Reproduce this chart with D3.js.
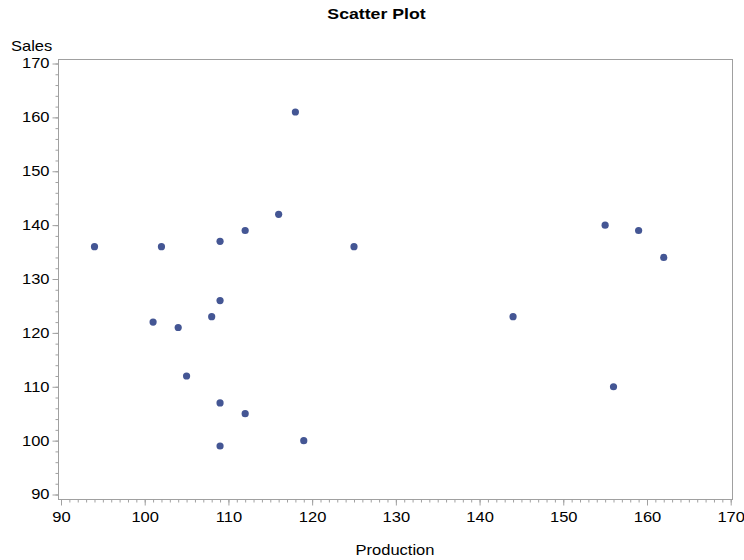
<!DOCTYPE html>
<html><head><meta charset="utf-8">
<script src="https://cdn.jsdelivr.net/npm/d3@7"></script>
<style>body{margin:0;background:#fff;} svg{display:block;font-family:"Liberation Sans",Arial,sans-serif;}</style>
</head><body>
<svg id="c" width="744" height="560"></svg>
<script>
const production = [94,102,101,104,105,108,109,109,109,109,112,112,116,118,119,125,144,155,156,159,162];
const sales      = [136,136,122,121,112,123,126,137,107,99,139,105,142,161,100,136,123,140,110,139,134];
const xTicks = [90,100,110,120,130,140,150,160,170];
const yTicks = [90,100,110,120,130,140,150,160,170];
const title = "Scatter Plot", xLabel = "Production", yLabel = "Sales";

const sx = 1.18; // horizontal stretch of text in the reference
const svg = d3.select("#c");
const x = d3.scaleLinear().domain([90,170]).range([61,730.7]);
const y = d3.scaleLinear().domain([90,170]).range([494.5,63.5]);
const frame = {l:58.5, t:59.5, r:732.5, b:499.5};
const axisColor = "#a0a0a0";

svg.append("rect").attr("x",frame.l).attr("y",frame.t)
  .attr("width",frame.r-frame.l).attr("height",frame.b-frame.t)
  .attr("fill","none").attr("stroke",axisColor).attr("stroke-width",1);

function style(g){ g.select(".domain").remove(); g.selectAll("line").attr("stroke",axisColor);
  g.selectAll("text").attr("fill","#000").attr("font-size","14px"); }

// x minor
svg.append("g").attr("transform",`translate(0,${frame.b})`)
  .call(d3.axisBottom(x).tickValues(d3.range(90,171,1)).tickSize(3).tickFormat(""))
  .call(style);
svg.append("g").attr("transform",`translate(0,${frame.b})`)
  .call(d3.axisBottom(x).tickValues(xTicks).tickSize(6).tickPadding(7).tickFormat(d3.format("d")))
  .call(style)
  .call(g=>g.selectAll("text").attr("transform",`scale(${sx},1)`));
// y minor
svg.append("g").attr("transform",`translate(${frame.l},0)`)
  .call(d3.axisLeft(y).tickValues(d3.range(90,171,2)).tickSize(3).tickFormat(""))
  .call(style);
svg.append("g").attr("transform",`translate(${frame.l},0)`)
  .call(d3.axisLeft(y).tickValues(yTicks).tickSize(6).tickPadding(3).tickFormat(d3.format("d")))
  .call(style)
  .call(g=>g.selectAll("text").attr("x",-9/sx).attr("transform",`scale(${sx},1)`));

svg.append("g").selectAll("circle").data(production.map((p,i)=>[p,sales[i]])).join("circle")
  .attr("cx",d=>x(d[0])).attr("cy",d=>y(d[1])).attr("r",3.6).attr("fill","#445694");

function label(txt,px,py,anchor,size,weight){
  svg.append("g").attr("transform",`translate(${px},${py}) scale(${sx},1)`)
    .append("text").attr("text-anchor",anchor).attr("font-size",size).attr("font-weight",weight).text(txt);
}
label(title,376.5,19,"middle","15px","bold");
label(xLabel,395,555,"middle","14px","normal");
label(yLabel,11,51,"start","14px","normal");
</script>
</body></html>
